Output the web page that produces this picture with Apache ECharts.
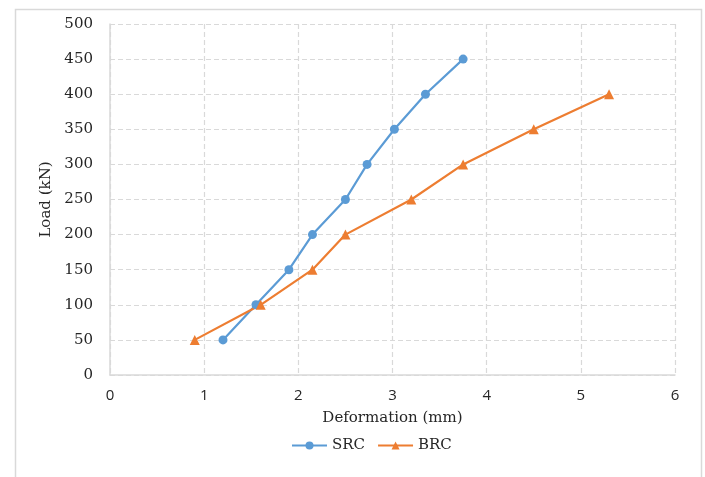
<!DOCTYPE html>
<html><head><meta charset="utf-8">
<script src="https://cdn.jsdelivr.net/npm/echarts@6/dist/echarts.min.js"></script>
<style>html,body{margin:0;padding:0;background:#fff}#c{width:705px;height:477px}</style>
</head><body><div id="c"></div>
<script>
const srcDeformation = [1.2, 1.55, 1.9, 2.15, 2.5, 2.73, 3.02, 3.35, 3.75];
const srcLoad = [50, 100, 150, 200, 250, 300, 350, 400, 450];
const brcDeformation = [0.9, 1.6, 2.15, 2.5, 3.2, 3.75, 4.5, 5.3];
const brcLoad = [50, 100, 150, 200, 250, 300, 350, 400];
const seriesNames = ['SRC', 'BRC'];
const xTitle = 'Deformation (mm)';
const yTitle = 'Load (kN)';

const serif = '"DejaVu Serif", serif';
const chart = echarts.init(document.getElementById('c'));
chart.setOption({
  animation: false,
  graphic: [{type: 'rect', left: 13, top: 7, shape: {width: 686, height: 480},
    style: {fill: 'none', stroke: '#d9d9d9', lineWidth: 1.5}, silent: true}],
  grid: {left: 110, right: 30, top: 24, bottom: 102},
  legend: {data: seriesNames, left: 286, top: 433, itemWidth: 35, itemHeight: 10, itemGap: 12,
    textStyle: {fontFamily: serif, fontSize: 15, color: '#262626'}},
  xAxis: {type: 'value', min: 0, max: 6, interval: 1, name: xTitle, nameLocation: 'middle', nameGap: 36,
    nameTextStyle: {fontFamily: serif, fontSize: 15, color: '#262626'},
    axisLine: {lineStyle: {color: '#d9d9d9', width: 1.5}}, axisTick: {show: false},
    axisLabel: {fontFamily: '"Open Sans", sans-serif', fontSize: 15, color: '#262626', margin: 13},
    splitLine: {lineStyle: {color: '#d9d9d9', type: [5, 3], width: 1.2}}},
  yAxis: {type: 'value', min: 0, max: 500, interval: 50, name: yTitle, nameLocation: 'middle', nameGap: 54,
    nameTextStyle: {fontFamily: serif, fontSize: 15, color: '#262626'},
    axisLine: {show: true, lineStyle: {color: '#d9d9d9', width: 1.5}}, axisTick: {show: false},
    axisLabel: {fontFamily: serif, fontSize: 15, color: '#262626', margin: 17},
    splitLine: {lineStyle: {color: '#d9d9d9', type: [5, 3], width: 1.2}}},
  series: [
    {name: seriesNames[0], type: 'line', data: srcDeformation.map((x, i) => [x, srcLoad[i]]),
      symbol: 'circle', symbolSize: 9, lineStyle: {width: 2.2, color: '#5B9BD5'},
      itemStyle: {color: '#5B9BD5'}},
    {name: seriesNames[1], type: 'line', data: brcDeformation.map((x, i) => [x, brcLoad[i]]),
      symbol: 'triangle', symbolSize: 10, lineStyle: {width: 2.2, color: '#ED7D31'},
      itemStyle: {color: '#ED7D31'}}
  ]
});
</script></body></html>
